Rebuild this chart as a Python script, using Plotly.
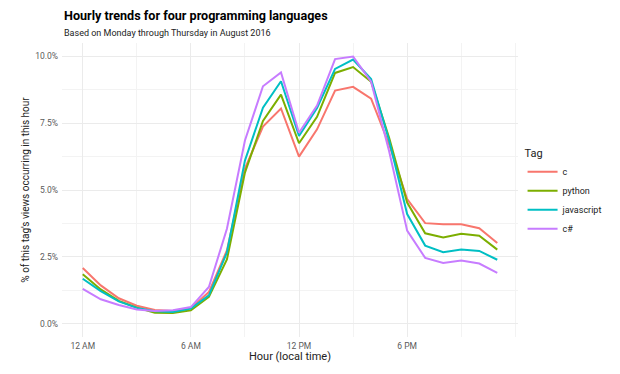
import plotly.graph_objects as go

hours = list(range(24))
tags = ["c", "python", "javascript", "c#"]
colors = ["#F8766D", "#7CAE00", "#00BFC4", "#C77CFF"]

c_vals = [2.08, 1.43, 0.95, 0.67, 0.51, 0.47, 0.58, 1.18, 2.74, 5.80, 7.37, 8.05,
          6.25, 7.27, 8.72, 8.86, 8.42, 6.70, 4.66, 3.76, 3.72, 3.72, 3.57, 3.02]
python_vals = [1.85, 1.28, 0.85, 0.60, 0.41, 0.40, 0.50, 1.00, 2.40, 5.65, 7.58, 8.57,
               6.75, 7.74, 9.38, 9.60, 9.05, 6.95, 4.53, 3.38, 3.22, 3.36, 3.29, 2.77]
javascript_vals = [1.68, 1.22, 0.83, 0.59, 0.46, 0.44, 0.56, 1.06, 2.66, 6.10, 8.08, 9.07,
                   7.02, 8.07, 9.53, 9.88, 9.15, 6.85, 4.10, 2.92, 2.67, 2.77, 2.72, 2.39]
csharp_vals = [1.30, 0.91, 0.70, 0.53, 0.47, 0.50, 0.62, 1.37, 3.55, 6.85, 8.88, 9.40,
               7.14, 8.16, 9.90, 9.99, 9.05, 6.45, 3.48, 2.46, 2.27, 2.36, 2.25, 1.90]
series = [c_vals, python_vals, javascript_vals, csharp_vals]

x_tickvals = [0, 6, 12, 18]
x_ticktext = ["12 AM", "6 AM", "12 PM", "6 PM"]
x_minor = [3, 9, 15, 21, 24]
y_tickvals = [0, 2.5, 5, 7.5, 10]
y_ticktext = ["0.0%", "2.5%", "5.0%", "7.5%", "10.0%"]
y_minor = [1.25, 3.75, 6.25, 8.75]

FONT = "Roboto"

fig = go.Figure()
for name, vals, col in zip(tags, series, colors):
    fig.add_trace(go.Scatter(x=hours, y=vals, mode="lines", name=name,
                             line=dict(color=col, width=2)))

grid_major = "#EBEBEB"
grid_minor = "#F3F3F3"

# page body has an 8px margin, so the figure is 612x366 and offset by 8px
fig.update_layout(
    width=612, height=366,
    margin=dict(l=53.6, r=102.3, t=35, b=37, autoexpand=False),
    paper_bgcolor="white", plot_bgcolor="white",
    font=dict(family=FONT, color="#222222"),
    showlegend=True,
    legend=dict(
        title=dict(text="Tag", font=dict(size=11, color="#222222")),
        font=dict(size=9, color="#222222"),
        x=1.01, xanchor="left", y=0.66, yanchor="top",
        tracegroupgap=0,
        bgcolor="rgba(0,0,0,0)",
    ),
    xaxis=dict(
        automargin=False,
        range=[-1.15, 24.15], tickvals=x_tickvals, ticktext=x_ticktext,
        showgrid=True, gridcolor=grid_major, gridwidth=1,
        zeroline=False, showline=False, ticks="",
        tickfont=dict(size=8.5, color="#5A5A5A"), ticklabelstandoff=2,
        minor=dict(tickvals=x_minor, showgrid=True, gridcolor=grid_minor, gridwidth=1, ticks=""),
        title=dict(text="Hour (local time)", font=dict(size=11, color="#222222"), standoff=2),
    ),
    yaxis=dict(
        automargin=False,
        range=[-0.5, 10.5], tickvals=y_tickvals, ticktext=y_ticktext,
        showgrid=True, gridcolor=grid_major, gridwidth=1,
        zeroline=False, showline=False, ticks="",
        tickfont=dict(size=8.5, color="#5A5A5A"), ticklabelstandoff=3,
        minor=dict(tickvals=y_minor, showgrid=True, gridcolor=grid_minor, gridwidth=1, ticks=""),
        title=dict(text="% of this tag's views occurring in this hour",
                   font=dict(size=10, color="#222222"), standoff=3),
    ),
    annotations=[
        dict(text="<b>Hourly trends for four programming languages</b>",
             xref="paper", yref="paper", x=0, y=1.094, xanchor="left", yanchor="middle",
             showarrow=False, font=dict(size=12.6, color="#000000", family=FONT)),
        dict(text="Based on Monday through Thursday in August 2016",
             xref="paper", yref="paper", x=0, y=1.035, xanchor="left", yanchor="middle",
             showarrow=False, font=dict(size=9, color="#222222", family=FONT)),
    ],
)

fig.write_html("out.html")
